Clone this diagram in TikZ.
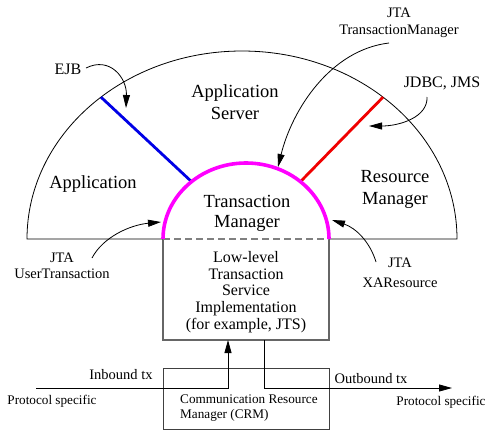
\documentclass[tikz,border=0pt]{standalone}
\usepackage{fontspec}
\setmainfont{Liberation Serif}
\usetikzlibrary{arrows.meta,calc}
\definecolor{tmmag}{RGB}{255,0,255}
\definecolor{ifblue}{RGB}{0,0,230}
\definecolor{ifred}{RGB}{240,0,0}
\begin{document}
\begin{tikzpicture}[x=1pt,y=-1pt,
  big/.style={font=\fontsize{18.5}{22}\selectfont,align=center,inner sep=0pt},
  mid/.style={font=\fontsize{16}{16.7}\selectfont,align=center,inner sep=0pt},
  sml/.style={font=\fontsize{14.5}{17}\selectfont,align=center,inner sep=0pt},
  tiny/.style={font=\fontsize{13.2}{15}\selectfont,align=left,inner sep=0pt},
  thin/.style={line width=0.8pt,draw=black},
  arr/.style={thin,-{Triangle[length=13pt,width=7pt]}},
  boxline/.style={line width=1.1pt,draw=black!60},
]
\useasboundingbox (0,0) rectangle (494,439);
\fill[white] (0,0) rectangle (494,439);
% key coordinates
\coordinate (bc) at (242,239);
\coordinate (mc) at (246,239);
\coordinate (bl) at (27,239);
\coordinate (br) at (457,239);
\coordinate (ml) at (163,239);
\coordinate (mr) at (329,239);
% outer half ellipse
\draw[thin] (ml) -- (bl) arc[start angle=180,end angle=0,x radius=215pt,y radius=188pt] -- (mr);
% blue and red interfaces
\draw[ifblue,line width=2.8pt] ($(bc)+(131:215pt and 188pt)$) coordinate (bo) -- ($(mc)+(131:83pt and 76pt)$) coordinate (bi);
\draw[ifred,line width=2.8pt] ($(bc)+(49:215pt and 188pt)$) coordinate (ro) -- ($(mc)+(49:83pt and 76pt)$) coordinate (ri);
% low-level box
\draw[boxline] (ml) -- (163,340) -- (329,340) -- (mr);
\draw[black!50,line width=1.3pt,dash pattern=on 7pt off 4pt] (ml) -- (mr);
% magenta transaction manager arc
\draw[tmmag,line width=3.6pt] (ml) arc[start angle=180,end angle=0,x radius=83pt,y radius=76pt];
% CRM box
\node[draw=black!75,line width=1pt,minimum width=166pt,minimum height=61pt,inner sep=0pt] (crm) at (246,398.5) {};
\node[tiny,anchor=west] (crmtext) at (180,408.5) {Communication Resource\\Manager (CRM)};
% area labels
\node[big] (appserver) at (235,102) {Application\\Server};
\node[big] (app) at (93,184) {Application};
\node[big] (rm) at (395,189) {Resource\\Manager};
\node[big,font=\fontsize{18.5}{20}\selectfont] (tm) at (247,213) {Transaction\\Manager};
\node[mid] (low) at (246,292) {Low-level\\Transaction\\Service\\Implementation\\(for example, JTS)};
% interface labels
\node[mid] (ejb) at (68,69) {EJB};
\node[sml] (jtatm) at (399,22.5) {JTA\\TransactionManager};
\node[mid] (jdbc) at (442,83) {JDBC, JMS};
\node[sml,font=\fontsize{14.5}{16}\selectfont] (jtaut) at (62,266) {JTA\\UserTransaction};
\node[sml,font=\fontsize{14.5}{20}\selectfont] (jtaxa) at (400,273) {JTA\\XAResource};
% tx labels
\node[sml] (inb) at (121,375) {Inbound tx};
\node[sml] (outb) at (371,379) {Outbound tx};
\node[tiny] (psl) at (52,401) {Protocol specific};
\node[tiny] (psr) at (441,402) {Protocol specific};
% curved arrows
\coordinate (ejbs) at (86,68);
\coordinate (ejbt) at (126,108);
\draw[arr] (ejbs) .. controls (110,56) and (127,78) .. (ejbt);
\coordinate (tms) at (389,43);
\coordinate (tmt) at (278,167);
\draw[arr] (tms) .. controls (330,50) and (292,110) .. (tmt);
\coordinate (jds) at (427,97);
\coordinate (jdt) at (369,126);
\draw[arr] (jds) .. controls (428,117) and (400,126) .. (jdt);
\coordinate (uts) at (92,258);
\coordinate (utt) at (161,222);
\draw[arr] (uts) .. controls (103,237) and (130,225) .. (utt);
\coordinate (xas) at (376,262);
\coordinate (xat) at (332,220);
\draw[arr] (xas) .. controls (370,242) and (356,228) .. (xat);
% protocol lines
\coordinate (pl) at (36,388);
\coordinate (inup) at (228,388);
\coordinate (intip) at (228,340);
\draw[arr] (pl) -- (inup) -- (intip);
\coordinate (outs) at (264,340);
\coordinate (outd) at (264,388);
\coordinate (outtip) at (452,388);
\draw[arr] (outs) -- (outd) -- (outtip);
\end{tikzpicture}
\end{document}
